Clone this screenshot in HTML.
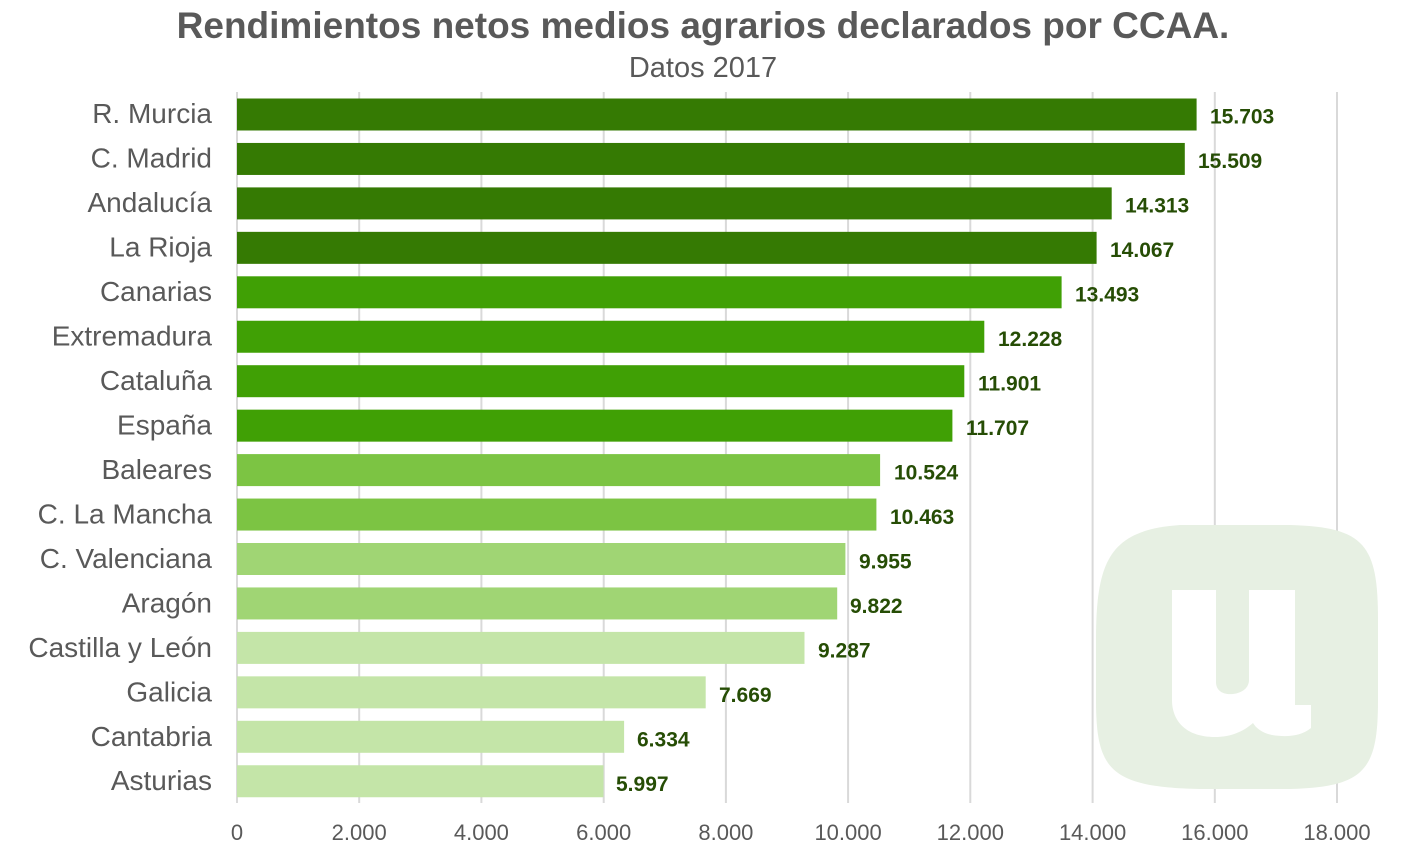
<!DOCTYPE html>
<html><head><meta charset="utf-8"><style>
body{margin:0;background:#fff;}
svg{display:block;font-family:"Liberation Sans",sans-serif;}
</style></head><body>
<svg width="1407" height="857" viewBox="0 0 1407 857">
<g stroke="#d9d9d9" stroke-width="2">
<line x1="237" y1="92" x2="237" y2="803"/>
<line x1="359.2" y1="92" x2="359.2" y2="803"/>
<line x1="481.4" y1="92" x2="481.4" y2="803"/>
<line x1="603.7" y1="92" x2="603.7" y2="803"/>
<line x1="725.9" y1="92" x2="725.9" y2="803"/>
<line x1="848.1" y1="92" x2="848.1" y2="803"/>
<line x1="970.3" y1="92" x2="970.3" y2="803"/>
<line x1="1092.6" y1="92" x2="1092.6" y2="803"/>
<line x1="1214.8" y1="92" x2="1214.8" y2="803"/>
<line x1="1337" y1="92" x2="1337" y2="803"/>
</g>
<path d="M1180 525 C1110 530 1096 560 1096 640 L1096 700 C1096 770 1110 787 1200 789 L1290 789 C1365 787 1378 770 1378 700 L1378 620 C1378 545 1365 527 1290 525 Z" fill="#e7f0e3"/>
<path d="M1172 590 L1216 590 L1216 682 C1216 692 1225 695 1233 694 C1242 693 1249 688 1249 680 L1249 590 L1295 590 L1295 705 L1311 705 L1311 728 C1300 737 1285 737 1272 735 C1262 733 1256 728 1253 723 C1243 732 1230 737 1215 737 C1185 737 1172 720 1172 700 Z" fill="#fff"/>
<text x="703" y="38" text-anchor="middle" font-size="37" font-weight="bold" fill="#595959">Rendimientos netos medios agrarios declarados por CCAA.</text>
<text x="703" y="77" text-anchor="middle" font-size="29" fill="#595959">Datos 2017</text>
<g>
<rect x="237" y="98.5" width="959.6" height="32" fill="#357a03"/>
<rect x="237" y="142.95" width="947.8" height="32" fill="#357a03"/>
<rect x="237" y="187.4" width="874.7" height="32" fill="#357a03"/>
<rect x="237" y="231.85" width="859.6" height="32" fill="#357a03"/>
<rect x="237" y="276.3" width="824.6" height="32" fill="#40a005"/>
<rect x="237" y="320.75" width="747.3" height="32" fill="#40a005"/>
<rect x="237" y="365.2" width="727.3" height="32" fill="#40a005"/>
<rect x="237" y="409.65" width="715.4" height="32" fill="#40a005"/>
<rect x="237" y="454.1" width="643.1" height="32" fill="#7cc443"/>
<rect x="237" y="498.55" width="639.4" height="32" fill="#7cc443"/>
<rect x="237" y="543" width="608.4" height="32" fill="#a0d574"/>
<rect x="237" y="587.45" width="600.2" height="32" fill="#a0d574"/>
<rect x="237" y="631.9" width="567.5" height="32" fill="#c4e5a8"/>
<rect x="237" y="676.35" width="468.7" height="32" fill="#c4e5a8"/>
<rect x="237" y="720.8" width="387.1" height="32" fill="#c4e5a8"/>
<rect x="237" y="765.25" width="366.5" height="32" fill="#c4e5a8"/>
</g>
<g font-size="28" fill="#595959" text-anchor="end">
<text x="212" y="123">R. Murcia</text>
<text x="212" y="167.5">C. Madrid</text>
<text x="212" y="212">Andalucía</text>
<text x="212" y="256.5">La Rioja</text>
<text x="212" y="301">Canarias</text>
<text x="212" y="345.5">Extremadura</text>
<text x="212" y="390">Cataluña</text>
<text x="212" y="434.5">España</text>
<text x="212" y="479">Baleares</text>
<text x="212" y="523.5">C. La Mancha</text>
<text x="212" y="568">C. Valenciana</text>
<text x="212" y="612.5">Aragón</text>
<text x="212" y="657">Castilla y León</text>
<text x="212" y="701.5">Galicia</text>
<text x="212" y="746">Cantabria</text>
<text x="212" y="790">Asturias</text>
</g>
<g font-size="21" font-weight="bold" fill="#264d05">
<text x="1210" y="123.5">15.703</text>
<text x="1198" y="168">15.509</text>
<text x="1125" y="212.5">14.313</text>
<text x="1110" y="257">14.067</text>
<text x="1075" y="301.5">13.493</text>
<text x="998" y="346">12.228</text>
<text x="978" y="390.5">11.901</text>
<text x="966" y="435">11.707</text>
<text x="894" y="479.5">10.524</text>
<text x="890" y="524">10.463</text>
<text x="859" y="568.5">9.955</text>
<text x="850" y="613">9.822</text>
<text x="818" y="657.5">9.287</text>
<text x="719" y="702">7.669</text>
<text x="637" y="746.5">6.334</text>
<text x="616" y="791">5.997</text>
</g>
<g font-size="22" fill="#595959" text-anchor="middle">
<text x="237" y="840">0</text><text x="359.2" y="840">2.000</text><text x="481.4" y="840">4.000</text><text x="603.7" y="840">6.000</text><text x="725.9" y="840">8.000</text><text x="848.1" y="840">10.000</text><text x="970.3" y="840">12.000</text><text x="1092.6" y="840">14.000</text><text x="1214.8" y="840">16.000</text><text x="1337" y="840">18.000</text>
</g>
</svg>
</body></html>
